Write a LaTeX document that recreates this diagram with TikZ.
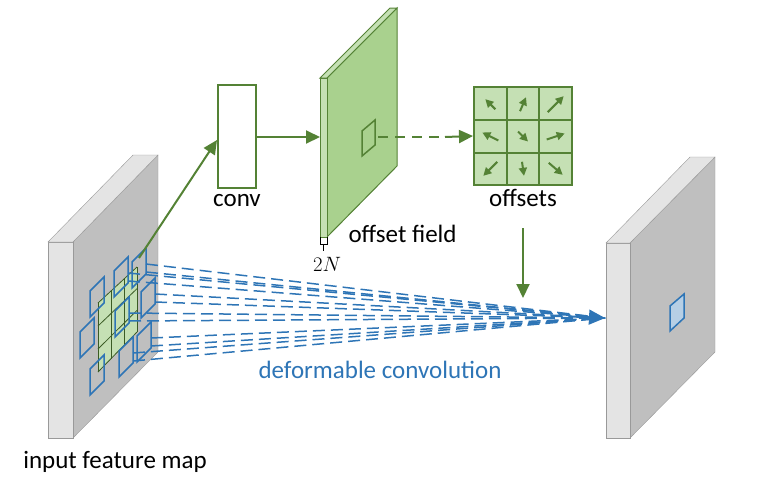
\documentclass[tikz,border=0pt]{standalone}
\usepackage{fontspec}
\setmainfont{Carlito}
\usetikzlibrary{arrows.meta, positioning, calc}
\definecolor{leaf}{RGB}{84,130,53}
\definecolor{leaffill}{RGB}{169,209,142}
\definecolor{leaflight}{RGB}{197,224,180}
\definecolor{sea}{RGB}{46,117,182}
\definecolor{slab}{RGB}{191,191,191}
\definecolor{slablight}{RGB}{228,228,228}

\begin{document}
\begin{tikzpicture}[
    x=1pt, y=-1pt,
    txt/.style={font=\fontsize{25}{30}\selectfont},
    garrow/.style={-{Triangle[length=14pt,width=13pt]}, leaf, line width=2pt},
    darrow/.style={dash pattern=on 12pt off 6pt, sea, line width=1.5pt},
    cell/.style={-{Triangle[length=8pt,width=8pt]}, leaf, line width=2pt},
    patch/.style={sea, line width=1.5pt},
    sideface/.style={draw=gray!80, fill=slablight},
    frontface/.style={draw=gray!80, fill=slab}
]
    \useasboundingbox (0,0) rectangle (782,483);
    % input feature map
    \draw[frontface] (73,242) -- (158,155) -- (158,352) -- (73,438) -- cycle;
    \draw[sideface] (48,242) -- (73,242) -- (73,438) -- (48,438) -- cycle;
    \draw[sideface] (48,242) -- (133,155) -- (158,155) -- (73,242) -- cycle;
    \node[txt] (inlabel) at (115,462) {input feature map};
    % green grid
    \fill[leaflight] (98,303) -- (137,267) -- (137,332) -- (98,372) -- cycle;
    \foreach \t in {0,1/3,2/3,1}{
      \draw[leaf!70!black, line width=0.8pt] ($(98,303)!\t!(137,267)$) -- ($(98,372)!\t!(137,332)$);
      \draw[leaf!70!black, line width=0.8pt] ($(98,303)!\t!(98,372)$) -- ($(137,267)!\t!(137,332)$);
    }
    % target of sampling lines
    \coordinate (target) at (605,318);
    % sampling patches
    \foreach \px/\py [count=\i] in {139/268, 121/277, 97/297, 148/298, 122/317, 87/338, 144/342, 126/357, 97/375}{
      \draw[patch] (\px-7,\py-6) -- (\px+7,\py-20) -- (\px+7,\py+6) -- (\px-7,\py+20) -- cycle;
      \coordinate (p\i) at (\px+7,\py-4);
      \coordinate (q\i) at (\px+7,\py+4);
    }
    \foreach \i in {1,2,4,5,7,8}{
      \draw[darrow] (p\i) -- (target);
      \draw[darrow] (q\i) -- (target);
    }
    \draw[sea, line width=1.5pt, -{Triangle[length=16pt,width=15pt]}] ($(target)!18pt!(p4)$) -- (target);
    \node[txt, text=sea] (dlabel) at (380,370) {deformable convolution};
    % conv
    \node[draw=leaf, line width=2pt, minimum width=38pt, minimum height=103pt, inner sep=0pt] (conv) at (237,136) {};
    \node[txt, below=2pt of conv] (convlabel) {conv};
    \draw[garrow] (139,258) -- (conv.west |- 0,140) coordinate (ctip);
    % offset field
    \draw[draw=leaf, fill=leaffill, line width=1pt] (327,78) -- (397,8) -- (397,166) -- (327,237) -- cycle;
    \draw[draw=leaf, fill=leaflight, line width=1pt] (320,78) -- (327,78) -- (327,237) -- (320,237) -- cycle;
    \draw[draw=leaf, fill=leaflight, line width=1pt] (320,78) -- (390,8) -- (397,8) -- (327,78) -- cycle;
    \coordinate (field) at (320,137);
    \draw[garrow] (conv.east |- field) -- (field);
    \draw[leaf, line width=1.5pt] (362,131) -- (375,120) -- (375,145) -- (362,156) -- cycle;
    \node[txt, anchor=west] (fieldlabel) at (345,234) {offset field};
    \draw[line width=1pt] (320,237) -- (320,244) -- (327,244) -- (327,237) (323.5,244) -- (323.5,251);
    \node[font=\fontsize{22}{26}\selectfont] (dimlabel) at (327,264) {$2N$};
    % offsets grid
    \node[draw=leaf, fill=leaflight, line width=2pt, minimum size=98pt, inner sep=0pt] (offsets) at (523,136) {};
    \draw[leaf, line width=2pt] (474+32.7,88) -- (474+32.7,185) (474+65.3,88) -- (474+65.3,185)
      (474,88+32.3) -- (572,88+32.3) (474,88+64.7) -- (572,88+64.7);
    \foreach \cx/\cy/\dx/\dy in {0/0/-5/-5, 1/0/3/-7, 2/0/8/-8, 0/1/-8/-4, 1/1/5/5, 2/1/9/-3, 0/2/-7/7, 1/2/1/7, 2/2/7/6}{
      \draw[cell] ($(490.3+32.7*\cx,104.2+32.3*\cy)-(\dx,\dy)$) -- ++(2*\dx,2*\dy);
    }
    \draw[leaf, line width=2pt, dash pattern=on 10pt off 7pt] (378,137) -- (445,137);
    \draw[garrow] (445,137) -- (offsets.west);
    \node[txt, below=0pt of offsets] (offlabel) {offsets};
    \draw[garrow] (523,228) -- (523,298) coordinate (otip);
    % output feature map
    \draw[frontface] (630,243) -- (715,157) -- (715,352) -- (630,438) -- cycle;
    \draw[sideface] (606,243) -- (630,243) -- (630,438) -- (606,438) -- cycle;
    \draw[sideface] (606,243) -- (690,157) -- (715,157) -- (630,243) -- cycle;
    \draw[sea, fill=sea!35, line width=1.5pt] (670,306) -- (684,294) -- (684,318) -- (670,331) -- cycle;
\end{tikzpicture}
\end{document}
